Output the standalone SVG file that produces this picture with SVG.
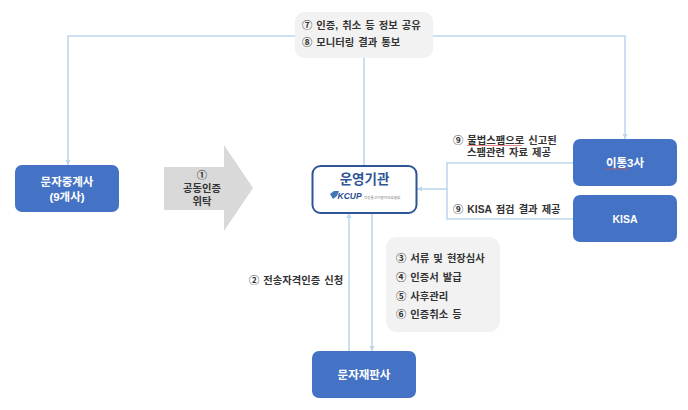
<svg xmlns="http://www.w3.org/2000/svg" width="688" height="410" viewBox="0 0 688 410">
<style>
text{font-family:"Liberation Sans","Noto Sans CJK KR",sans-serif;font-weight:700;fill:#333;font-size:10.300px;word-spacing:1.2px}
.w{fill:#fff;font-size:11.500px;text-anchor:middle;word-spacing:0}
.c{text-anchor:middle}
.b{fill:#4472c4}
.g{fill:#f2f2f2}
.l{fill:none;stroke:#bdd7ee;stroke-width:1.6}
.r{fill:none;stroke:#d9574f;stroke-width:.7}
</style>
<defs>
<marker id="a" markerWidth="6" markerHeight="6" refX="5" refY="3" orient="auto" markerUnits="userSpaceOnUse"><path d="M0 0.4L5 3L0 5.6z" fill="#bdd7ee"/></marker>
</defs>
<rect width="688" height="410" fill="#fff"/>
<g id="connectors">
<path class="l" d="M295 36H68V165" marker-end="url(#a)"/>
<path class="l" d="M433 36H625V139" marker-end="url(#a)"/>
<path class="l" d="M364 58V165"/>
<path class="l" d="M573 163H447V219H573"/>
<path class="l" d="M447 189H417" marker-end="url(#a)"/>
<path class="l" d="M349 351V213" marker-end="url(#a)"/>
<path class="l" d="M372 213V351" marker-end="url(#a)"/>
</g>
<g id="info-top">
<rect class="g" x="295" y="12" width="138" height="46" rx="9"/>
<text x="302" y="28.500">⑦ 인증, 취소 등 정보 공유</text>
<text x="302" y="46">⑧ 모니터링 결과 통보</text>
</g>
<g id="relay">
<rect class="b" x="15" y="165" width="104" height="47" rx="7"/>
<text class="w" x="67" y="186">문자중계사</text>
<text class="w" x="67" y="201">(9개사)</text>
</g>
<g id="consign">
<path d="M164 167H224V145L253 188L224 231V210H164z" fill="#d9d9d9"/>
<text class="c" x="202" y="179">①</text>
<text class="c" x="202" y="192">공동인증</text>
<text class="c" x="202" y="205">위탁</text>
</g>
<g id="operator">
<rect x="312.500" y="166" width="104" height="47" rx="8" fill="#fff" stroke="#2f5597" stroke-width="2"/>
<text x="364.500" y="184" text-anchor="middle" style="font-size:13.500px;fill:#2f5597">운영기관</text>
<path d="M330 194l4-3h5l-2 5-4 3z" fill="#3f78b5"/>
<text x="337.500" y="199" style="font-size:8.500px;font-style:italic;font-weight:700;fill:#1f4e8c">KCUP</text>
<text x="364" y="198.500" style="font-size:3.600px;font-weight:400;fill:#777;word-spacing:0">전송통신이용자보호협회</text>
</g>
<g id="label-9a">
<text x="453" y="143.500">⑨ 불법스팸으로 신고된</text>
<text x="467" y="155.500">스팸관련 자료 제공</text>
<path class="r" d="M467 145.500H522"/>
</g>
<g id="label-9b">
<text x="453" y="213">⑨ KISA 점검 결과 제공</text>
</g>
<g id="carriers">
<rect class="b" x="573" y="139" width="104" height="47" rx="7"/>
<text class="w" x="625" y="167">이통3사</text>
<path class="r" d="M605 169H628"/>
</g>
<g id="kisa">
<rect class="b" x="573" y="195" width="104" height="47" rx="7"/>
<text class="w" x="625" y="223" style="font-size:10.500px">KISA</text>
</g>
<g id="label-2">
<text x="249" y="284">② 전송자격인증 신청</text>
</g>
<g id="info-bottom">
<rect class="g" x="386" y="237" width="114" height="95" rx="11"/>
<text x="396" y="262">③ 서류 및 현장심사</text>
<text x="396" y="281">④ 인증서 발급</text>
<text x="396" y="300">⑤ 사후관리</text>
<text x="396" y="318">⑥ 인증취소 등</text>
</g>
<g id="reseller">
<rect class="b" x="312" y="351" width="104" height="47" rx="7"/>
<text class="w" x="364" y="379">문자재판사</text>
</g>
</svg>
